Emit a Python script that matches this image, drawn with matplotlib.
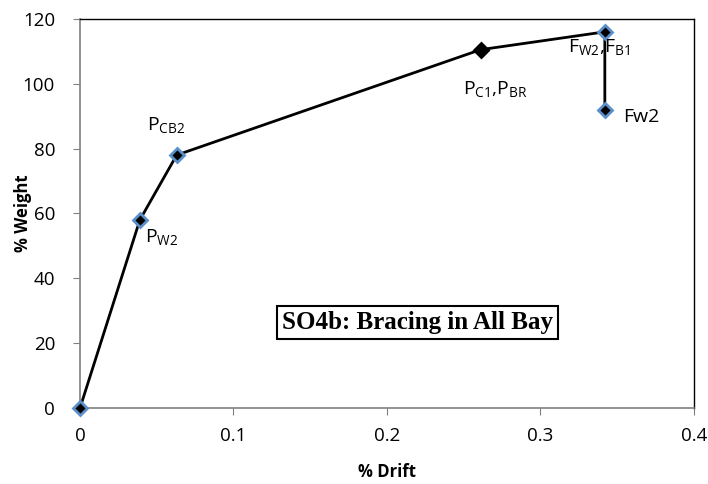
import matplotlib
matplotlib.use("Agg")
import matplotlib.pyplot as plt

plt.rcParams['font.family'] = ['Open Sans', 'DejaVu Sans']
plt.rcParams['mathtext.default'] = 'regular'

# pushover curve points
drift = [0.0, 0.039, 0.063, 0.261, 0.342, 0.342]
weight = [0.0, 58.0, 78.0, 110.5, 116.0, 92.0]
blue_edge = [True, True, True, False, True, True]

# event labels: (text, x, y) at the text baseline
labels = [
    (r'P$_{CB2}$', 0.0436, 85.8),
    (r'P$_{W2}$', 0.0423, 51.2),
    (r'P$_{C1}$,P$_{BR}$', 0.2495, 96.9),
    (r'F$_{W2}$,F$_{B1}$', 0.318, 109.8),
    ('Fw2', 0.354, 88.2),
]

fig = plt.figure(figsize=(7.08, 4.84), dpi=100)
ax = fig.add_axes([0.113, 0.157, 0.867, 0.804])

ax.plot(drift, weight, color='black', lw=2, zorder=2)
for x, y, b in zip(drift, weight, blue_edge):
    ax.plot(x, y, marker='D', ms=7, mfc='black',
            mec='#5B8FC9' if b else 'black', mew=2, zorder=3)

for txt, x, y in labels:
    ax.text(x, y, txt, fontsize=14, ha='left', va='baseline')

ax.text(0.22, 26.5, 'SO4b: Bracing in All Bay', family='Liberation Serif',
        fontweight='bold', fontsize=18, ha='center', va='center',
        bbox=dict(boxstyle='square,pad=0.2', fc='white', ec='black', lw=1.5))

ax.set_xlim(0, 0.4)
ax.set_ylim(0, 120)
ax.set_xticks([0, 0.1, 0.2, 0.3, 0.4])
ax.set_xticklabels(['0', '0.1', '0.2', '0.3', '0.4'])
ax.set_yticks(range(0, 121, 20))
ax.tick_params(direction='out', labelsize=13.5, length=5, color='#808080')
ax.tick_params(axis='x', pad=9)
ax.tick_params(axis='y', pad=13)
ax.set_xlabel('% Drift', fontsize=12, fontweight='bold')
ax.set_ylabel('% Weight', fontsize=12, fontweight='bold')
ax.xaxis.set_label_coords(0.5, -0.141)
ax.yaxis.set_label_coords(-0.078, 0.5)
for s in ['left', 'bottom']:
    ax.spines[s].set_color('#808080')
    ax.spines[s].set_linewidth(1.2)
for s in ['top', 'right']:
    ax.spines[s].set_color('black')
    ax.spines[s].set_linewidth(1)
ax.margins(0)
for m in ax.get_children():
    if hasattr(m, 'set_clip_on'):
        m.set_clip_on(False)

fig.savefig('out.png', dpi=100)
